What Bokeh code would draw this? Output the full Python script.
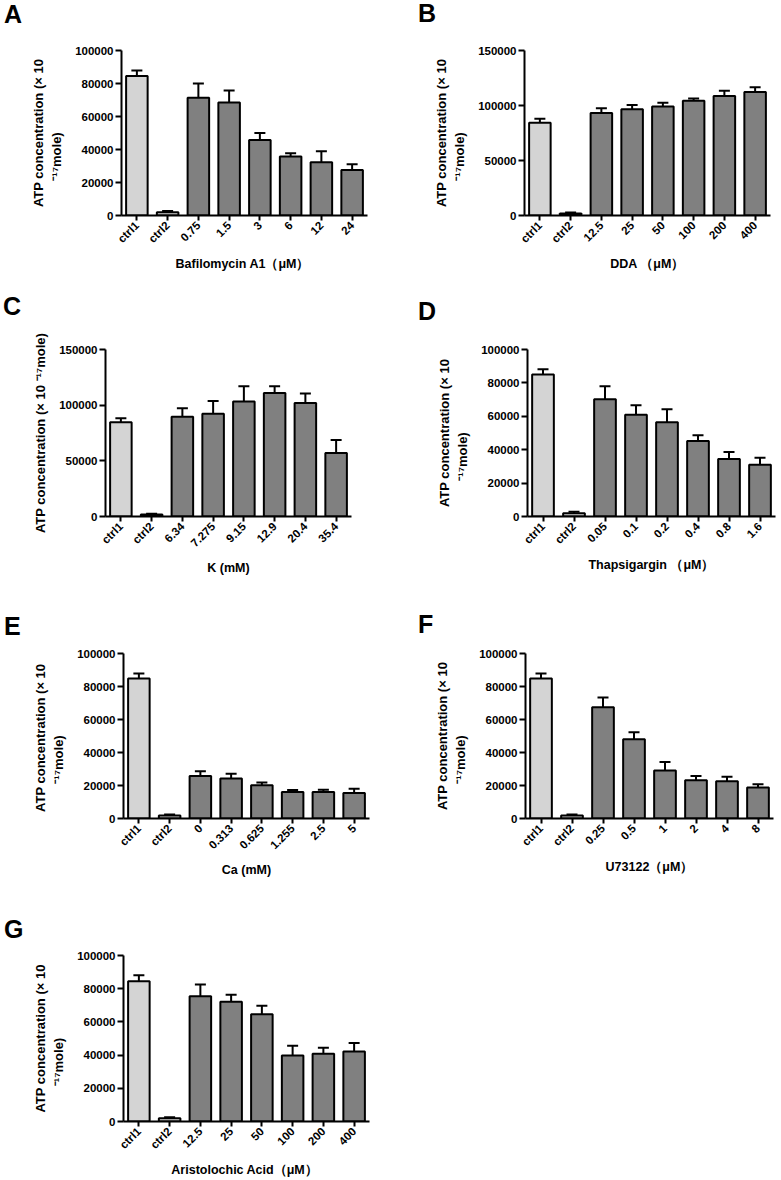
import math
from bokeh.plotting import figure
from bokeh.models import (FixedTicker, NumeralTickFormatter, Whisker, TeeHead,
                          ColumnDataSource, FactorRange, Range1d, Div)
from bokeh.layouts import column, row
from bokeh.embed import file_html
from bokeh.resources import INLINE

# ---------------- data ----------------
cats_A = ["ctrl1", "ctrl2", "0.75", "1.5", "3", "6", "12", "24"]
vals_A = [84500, 2000, 71400, 68500, 45800, 35700, 32300, 27600]
err_A = [3400, 800, 8600, 7300, 4200, 2000, 6600, 3400]

cats_B = ["ctrl1", "ctrl2", "12.5", "25", "50", "100", "200", "400"]
vals_B = [84400, 1800, 93100, 96500, 99200, 104300, 108600, 112200]
err_B = [3600, 900, 4300, 3900, 3300, 2100, 4800, 4500]

cats_C = ["ctrl1", "ctrl2", "6.34", "7.275", "9.15", "12.9", "20.4", "35.4"]
vals_C = [84600, 1800, 89700, 92400, 103200, 111000, 102000, 57000]
err_C = [3600, 600, 7500, 11400, 13800, 6000, 8400, 11700]

cats_D = ["ctrl1", "ctrl2", "0.05", "0.1", "0.2", "0.4", "0.8", "1.6"]
vals_D = [85000, 2000, 70200, 61000, 56400, 45200, 34400, 31000]
err_D = [3200, 800, 7800, 5600, 7800, 3400, 4200, 4200]

cats_E = ["ctrl1", "ctrl2", "0", "0.313", "0.625", "1.255", "2.5", "5"]
vals_E = [84800, 1800, 25700, 24200, 20200, 16000, 16000, 15400]
err_E = [3100, 600, 3000, 2900, 1600, 1200, 1400, 2600]

cats_F = ["ctrl1", "ctrl2", "0.25", "0.5", "1", "2", "4", "8"]
vals_F = [84800, 1800, 67500, 48100, 29100, 23200, 22600, 18800]
err_F = [3100, 600, 5800, 4200, 5200, 2500, 2700, 2000]

cats_G = ["ctrl1", "ctrl2", "12.5", "25", "50", "100", "200", "400"]
vals_G = [84500, 2000, 75500, 72200, 64600, 39800, 40800, 42100]
err_G = [3600, 600, 7000, 4100, 5200, 5900, 3700, 5200]

ticks_100k = [0, 20000, 40000, 60000, 80000, 100000]
ticks_150k = [0, 50000, 100000, 150000]

PAD = "\u00a0" * 13  # centres the second label line under the first
YL2 = "ATP concentration (× 10\n⁻¹⁷mole)" + PAD
YL2E = "ATP concentration  (× 10\n⁻¹⁷mole)" + PAD
YL1 = "ATP concentration (× 10 ⁻¹⁷mole)"

CTRL_COLOR = "#d4d4d4"
TREAT_COLOR = "#808080"
FONT = "Liberation Sans"


def letter_div(letter, w, h, left, top):
    html = ('<div style="font-family:\'Liberation Sans\',Arial,sans-serif;'
            'font-weight:bold;font-size:25px;line-height:25px;color:black;'
            f'padding-left:{left}px;padding-top:{top}px;margin:0;">{letter}</div>')
    return Div(text=html, width=w, height=h, margin=(0, 0, 0, 0))


def panel(cats, vals, errs, ticks, ylabel, xlabel, W, H, bl, br, bt, bb):
    p = figure(width=W, height=H, x_range=FactorRange(*cats, range_padding=0),
               y_range=Range1d(0, ticks[-1]), output_backend="svg",
               toolbar_location=None, tools="",
               min_border_left=bl, min_border_right=br,
               min_border_top=bt, min_border_bottom=bb)
    p.outline_line_color = None
    p.grid.visible = False
    p.background_fill_color = "white"
    p.border_fill_color = "white"

    colors = [CTRL_COLOR, CTRL_COLOR] + [TREAT_COLOR] * (len(cats) - 2)
    upper = [v + e for v, e in zip(vals, errs)]
    src = ColumnDataSource(dict(x=cats, top=vals, upper=upper, color=colors))

    w = Whisker(base="x", lower="top", upper="upper", source=src,
                dimension="height", line_color="black", line_width=2,
                lower_head=None,
                upper_head=TeeHead(size=11, line_color="black", line_width=2))
    p.add_layout(w)
    p.vbar(x="x", top="top", width=0.7, source=src, fill_color="color",
           line_color="black", line_width=2)

    for ax in (p.xaxis[0], p.yaxis[0]):
        ax.axis_line_width = 2
        ax.major_tick_line_width = 2
        ax.major_tick_in = 0
        ax.major_tick_out = 6
        ax.minor_tick_line_color = None
        ax.major_label_text_font = FONT
        ax.major_label_text_font_style = "bold"
        ax.major_label_text_color = "black"
        ax.axis_label_text_font = FONT
        ax.axis_label_text_font_style = "bold"
        ax.axis_label_text_font_size = "13px"
        ax.axis_label_text_color = "black"

    p.yaxis.ticker = FixedTicker(ticks=ticks)
    p.yaxis.formatter = NumeralTickFormatter(format="0")
    p.yaxis.major_label_text_font_size = "11.5px"
    p.yaxis.major_label_standoff = 2
    p.yaxis.axis_label = ylabel
    p.yaxis.axis_label_standoff = 8

    p.xaxis.major_label_orientation = math.pi / 4
    p.xaxis.major_label_text_font_size = "11.5px"
    p.xaxis.major_label_standoff = 3
    p.xaxis.major_tick_out = 5
    p.xaxis.axis_label = xlabel
    p.xaxis.axis_label_standoff = 5
    p.xaxis.axis_label_text_font_size = "12.5px"
    return p


fA = panel(cats_A, vals_A, err_A, ticks_100k, YL2, "Bafilomycin  A1（μM）",
           391, 260, 121, 24, 20, 75)
fB = panel(cats_B, vals_B, err_B, ticks_150k, YL2, "DDA （μM）",
           390, 260, 133, 11, 20, 75)
fC = panel(cats_C, vals_C, err_C, ticks_150k, YL1, "K (mM)",
           391, 275, 105, 40, 29, 79)
fD = panel(cats_D, vals_D, err_D, ticks_100k, YL2, "Thapsigargin （μM）",
           390, 275, 136, 6, 29, 79)
fE = panel(cats_E, vals_E, err_E, ticks_100k, YL2E, "Ca (mM)",
           391, 260, 123, 22, 13, 82)
fF = panel(cats_F, vals_F, err_F, ticks_100k, YL2, "U73122（μM）",
           390, 260, 134, 8, 13, 82)
fG = panel(cats_G, vals_G, err_G, ticks_100k, YL2, "Aristolochic  Acid（μM）",
           391, 235, 123, 22, 10, 59)

layout = column(
    row(letter_div("A", 391, 30, 4, 2), letter_div("B", 390, 30, 27, 1)),
    row(fA, fB),
    row(letter_div("C", 391, 30, 3, 4), letter_div("D", 390, 30, 27, 9)),
    row(fC, fD),
    row(letter_div("E", 391, 45, 4, 19), letter_div("F", 390, 45, 27, 17)),
    row(fE, fF),
    row(letter_div("G", 391, 45, 4, 17)),
    row(fG),
)

open("out.html", "w").write(file_html(layout, INLINE))
